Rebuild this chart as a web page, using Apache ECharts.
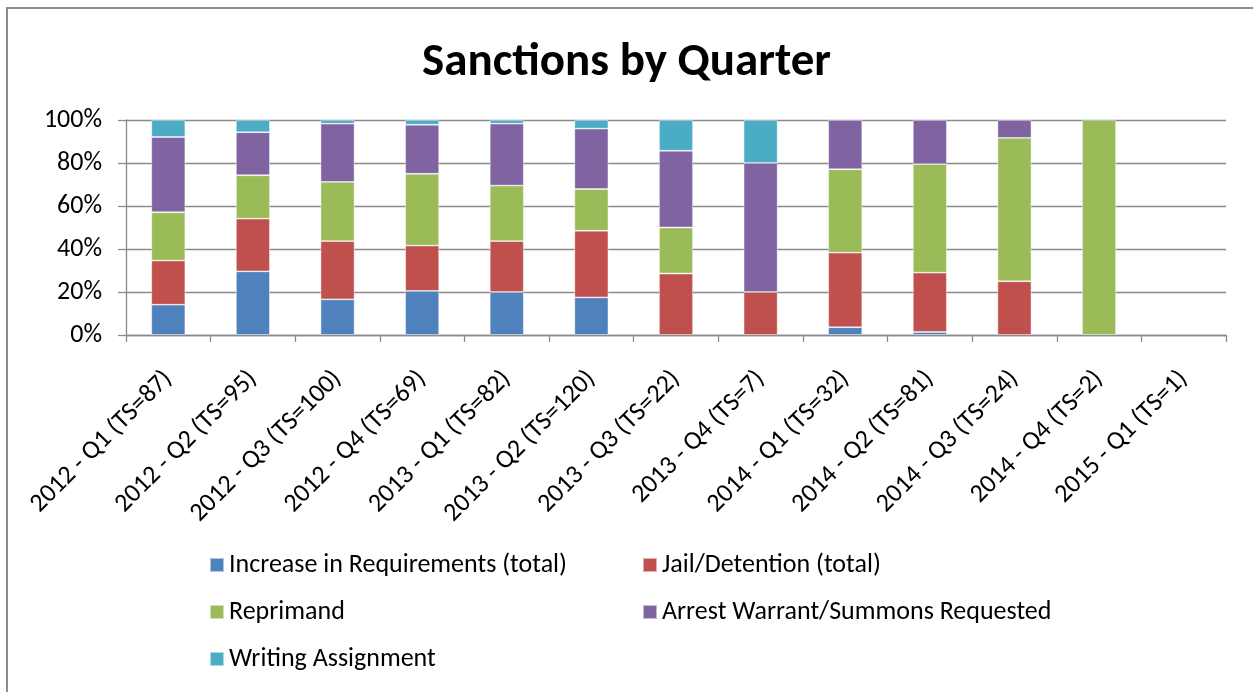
<!DOCTYPE html>
<html>
<head>
<meta charset="utf-8">
<title>Sanctions by Quarter</title>
<script src="https://cdn.jsdelivr.net/npm/echarts@6/dist/echarts.min.js"></script>
<style>
  html, body { margin: 0; padding: 0; background: #fff; }
  #chart { width: 1253px; height: 692px; }
</style>
</head>
<body>
<div id="chart"></div>
<script>
// Quarters (with total sanction count) on the category axis
const categories = [
  '2012 - Q1 (TS=87)', '2012 - Q2 (TS=95)', '2012 - Q3 (TS=100)', '2012 - Q4 (TS=69)',
  '2013 - Q1 (TS=82)', '2013 - Q2 (TS=120)', '2013 - Q3 (TS=22)', '2013 - Q4 (TS=7)',
  '2014 - Q1 (TS=32)', '2014 - Q2 (TS=81)', '2014 - Q3 (TS=24)', '2014 - Q4 (TS=2)',
  '2015 - Q1 (TS=1)'
];

// Share of sanctions per quarter, in percent
const increaseReq = [14.1, 29.6, 16.6, 20.5, 20.0, 17.5, 0, 0, 3.6, 1.4, 0, 0, 0];
const jailDetention = [20.5, 24.5, 27.1, 21.1, 23.7, 31.0, 28.6, 20.0, 34.7, 27.6, 25.0, 0, 0];
const reprimand = [22.5, 20.2, 27.5, 33.4, 25.8, 19.4, 21.4, 0, 38.8, 50.5, 66.7, 100, 0];
const arrestWarrant = [35.0, 20.0, 27.1, 22.8, 28.8, 28.1, 35.7, 60.0, 22.9, 20.5, 8.3, 0, 0];
const writingAssign = [7.9, 5.7, 1.7, 2.2, 1.7, 4.0, 14.3, 20.0, 0, 0, 0, 0, 0];

const yTicks = [0, 20, 40, 60, 80, 100];

const seriesNames = [
  'Increase in Requirements (total)',
  'Jail/Detention (total)',
  'Reprimand',
  'Arrest Warrant/Summons Requested',
  'Writing Assignment'
];
const seriesData = [increaseReq, jailDetention, reprimand, arrestWarrant, writingAssign];
const colors = ['#4F81BD', '#C0504D', '#9BBB59', '#8064A2', '#4BACC6'];

const FONT = 'Carlito, Lato, "Liberation Sans", sans-serif';
const gridColor = '#8a8a8a';

const chart = echarts.init(document.getElementById('chart'), null, { renderer: 'canvas' });

const legendText = { fontFamily: FONT, fontSize: 26, color: '#000', lineHeight: 28 };

const legendBase = {
  orient: 'vertical',
  top: 546,
  itemWidth: 14,
  itemHeight: 14,
  itemGap: 19,
  icon: 'rect',
  textStyle: legendText
};

chart.setOption({
  animation: false,
  color: colors,
  title: {
    text: 'Sanctions by Quarter',
    left: 'center',
    top: 35,
    textStyle: { fontFamily: FONT, fontSize: 47, fontWeight: 'bold', color: '#000' }
  },
  graphic: [{
    type: 'rect',
    shape: { x: 7, y: 8, width: 1260, height: 700 },
    style: { fill: 'none', stroke: '#8c8c8c', lineWidth: 2 },
    silent: true
  }],
  legend: [
    Object.assign({}, legendBase, {
      data: [seriesNames[0], seriesNames[2], seriesNames[4]],
      left: 204
    }),
    Object.assign({}, legendBase, {
      data: [seriesNames[1], seriesNames[3]],
      left: 637
    })
  ],
  grid: { left: 126, right: 27, top: 120, bottom: 357, containLabel: false },
  xAxis: {
    type: 'category',
    data: categories,
    axisLine: { show: true, lineStyle: { color: gridColor, width: 1.3 } },
    axisTick: { show: true, length: 7, lineStyle: { color: gridColor, width: 1.3 } },
    axisLabel: {
      rotate: 45,
      interval: 0,
      margin: 40,
      fontFamily: FONT,
      fontSize: 26,
      color: '#000'
    }
  },
  yAxis: {
    type: 'value',
    min: yTicks[0],
    max: yTicks[yTicks.length - 1],
    interval: 20,
    axisLine: { show: true, lineStyle: { color: gridColor, width: 1.3 } },
    axisTick: { show: true, length: 8, lineStyle: { color: gridColor, width: 1.3 } },
    splitLine: { show: true, lineStyle: { color: gridColor, width: 1.3 } },
    axisLabel: {
      formatter: '{value}%',
      margin: 24,
      fontFamily: FONT,
      fontSize: 26,
      color: '#000'
    }
  },
  series: seriesNames.map((name, i) => ({
    name: name,
    type: 'bar',
    stack: 'share',
    barWidth: 34,
    data: seriesData[i].map(v => (v === 0 ? '-' : v)),
    itemStyle: { color: colors[i], borderColor: 'rgba(255,255,255,0.55)', borderWidth: 0.8 },
    emphasis: { disabled: true }
  }))
});
</script>
</body>
</html>
